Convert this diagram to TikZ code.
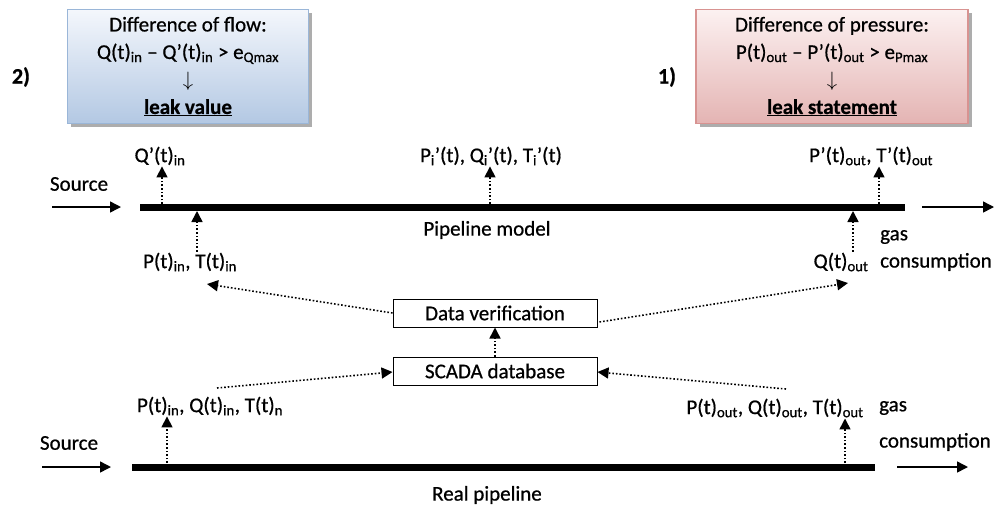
\documentclass[tikz,border=0pt]{standalone}
\usepackage{fontspec}
\setmainfont{Carlito}[RawFeature={embolden=0.7}]
\usetikzlibrary{arrows.meta,shadows,calc}
\definecolor{bluetop}{HTML}{F4F7FC}
\definecolor{bluebot}{HTML}{B3C8E3}
\definecolor{blueline}{HTML}{9AB6D8}
\definecolor{pinktop}{HTML}{FCF1F1}
\definecolor{pinkbot}{HTML}{E4B4B3}
\definecolor{pinkline}{HTML}{D89391}
\newcommand\sbx[1]{\textsubscript{#1}}
\newcommand\darrow{$\downarrow$}
\begin{document}
\begin{tikzpicture}[x=1pt,y=-1pt,
  txt/.style={inner sep=1pt,font=\fontsize{21}{26}\selectfont},
  pipebar/.style={line width=7pt},
  darr/.style={dash pattern=on 1.6pt off 2pt, line width=1.6pt, -{Triangle[length=11pt,width=11pt]}},
  sarr/.style={line width=1.5pt, -{Triangle[length=11pt,width=11pt]}},
  procbox/.style={draw=black, line width=1pt, minimum width=204pt, minimum height=28pt, inner sep=0pt, font=\fontsize{21}{26}\selectfont},
  condbox/.style={line width=1.2pt, inner sep=0pt, align=center, minimum height=114pt,
    font=\fontsize{21}{27.5}\selectfont,
    drop shadow={shadow xshift=3.5pt, shadow yshift=-3.5pt, fill=black!40, opacity=0.8}}]
\useasboundingbox (0,0) rectangle (1004,507);

% condition boxes
\node[condbox, draw=blueline, top color=bluetop, bottom color=bluebot, minimum width=241pt] (flow) at (188,66.5)
  {Difference of flow:\\Q(t)\sbx{in} – Q’(t)\sbx{in} > e\sbx{Qmax}\\\darrow\\\underline{\textbf{leak value}}};
\node[condbox, draw=pinkline, top color=pinktop, bottom color=pinkbot, minimum width=272pt] (press) at (832,66.5)
  {Difference of pressure:\\P(t)\sbx{out} – P’(t)\sbx{out} > e\sbx{Pmax}\\\darrow\\\underline{\textbf{leak statement}}};
\node[txt, font=\fontsize{22}{26}\selectfont\bfseries] (two) at (21,77) {2)};
\node[txt, font=\fontsize{22}{26}\selectfont\bfseries] (one) at (667,77) {1)};

% pipeline model
\coordinate (ml) at (140,207);
\coordinate (mr) at (905,207);
\draw[pipebar] (ml) -- (mr);
\coordinate (s1a) at (52,207);
\coordinate (s1b) at (121,207);
\draw[sarr] (s1a) -- (s1b);
\coordinate (o1a) at (922,207);
\coordinate (o1b) at (994,207);
\draw[sarr] (o1a) -- (o1b);
\node[txt] (src1) at (79,184) {Source};
\node[txt] (qpin) at (160,156) {Q’(t)\sbx{in}};
\node[txt] (pmid) at (491,156) {P\sbx{i}’(t), Q\sbx{i}’(t), T\sbx{i}’(t)};
\node[txt] (pout) at (871,156) {P’(t)\sbx{out}, T’(t)\sbx{out}};
\node[txt] (pmodel) at (487,230) {Pipeline model};
\node[txt] (ptin) at (190,262) {P(t)\sbx{in}, T(t)\sbx{in}};
\node[txt] (qout) at (841,262) {Q(t)\sbx{out}};
\node[txt, anchor=west] (gas1) at (879,237) {gas};
\node[txt, anchor=west] (cons1) at (879,262) {consumption};

\coordinate (m1) at (162,204);
\coordinate (m2) at (490,204);
\coordinate (m3) at (879,204);
\coordinate (m4) at (197,211);
\coordinate (m5) at (853,211);
\draw[darr] (m1) -- (m1 |- qpin.south);
\draw[darr] (m2) -- (m2 |- pmid.south);
\draw[darr] (m3) -- (m3 |- pout.south);
\draw[darr] (m4 |- ptin.north) -- (m4);
\draw[darr] (m5 |- qout.north) -- (m5);

% processing boxes
\node[procbox] (dv) at (495,313) {Data verification};
\node[procbox] (scada) at (495,371) {SCADA database};
\draw[darr] (scada.north) -- (dv.south);
\coordinate (dl) at (207,284);
\coordinate (dr) at (848,283);
\draw[darr] (dv.west) -- (dl);
\draw[darr] ($(dv.east)+(2,9)$) -- (dr);
\coordinate (sl) at (217,388);
\coordinate (sr) at (786,389);
\draw[darr] (sl) -- ($(scada.west)+(0,1)$);
\draw[darr] (sr) -- ($(scada.east)+(0,1)$);

% real pipeline
\coordinate (rl) at (132,467);
\coordinate (rr) at (875,467);
\draw[pipebar] (rl) -- (rr);
\coordinate (s2a) at (42,467);
\coordinate (s2b) at (111,467);
\draw[sarr] (s2a) -- (s2b);
\coordinate (o2a) at (897,467);
\coordinate (o2b) at (968,467);
\draw[sarr] (o2a) -- (o2b);
\node[txt] (src2) at (69,443) {Source};
\node[txt] (pqtin) at (210,406) {P(t)\sbx{in}, Q(t)\sbx{in}, T(t)\sbx{n}};
\node[txt] (pqtout) at (775,408) {P(t)\sbx{out}, Q(t)\sbx{out}, T(t)\sbx{out}};
\node[txt, anchor=west] (gas2) at (878,408) {gas};
\node[txt, anchor=west] (cons2) at (878,442) {consumption};
\node[txt] (rpipe) at (487,495) {Real pipeline};
\coordinate (r1) at (167,463);
\coordinate (r2) at (845,463);
\draw[darr] (r1) -- (r1 |- pqtin.south);
\draw[darr] (r2) -- (r2 |- pqtout.south);
\end{tikzpicture}
\end{document}
